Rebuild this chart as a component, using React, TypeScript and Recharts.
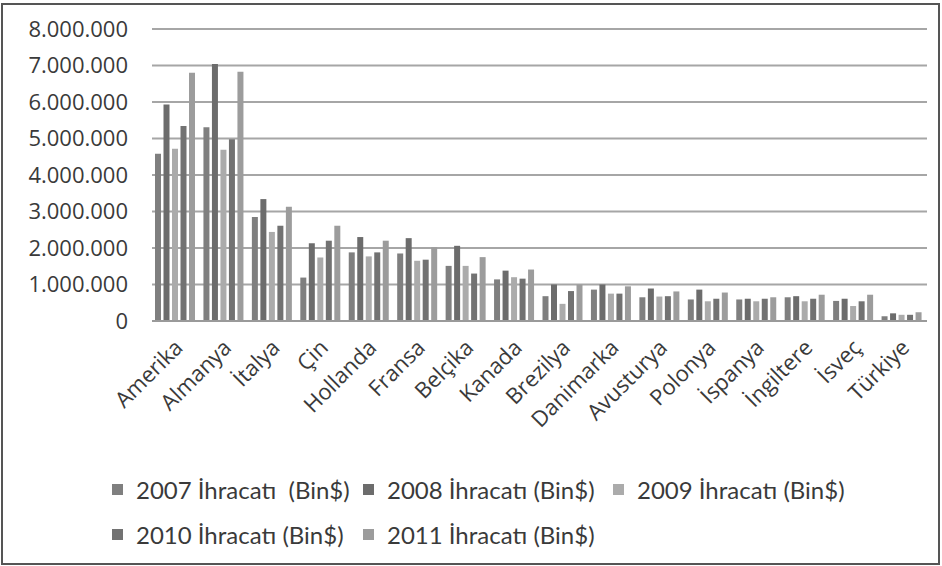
import { BarChart, Bar, XAxis, YAxis, CartesianGrid, Legend } from 'recharts'

const countries = ['Amerika', 'Almanya', 'İtalya', 'Çin', 'Hollanda', 'Fransa', 'Belçika', 'Kanada', 'Brezilya', 'Danimarka', 'Avusturya', 'Polonya', 'İspanya', 'İngiltere', 'İsveç', 'Türkiye']

const exports2007 = [4580000, 5310000, 2850000, 1190000, 1880000, 1850000, 1510000, 1140000, 680000, 860000, 650000, 590000, 590000, 650000, 550000, 130000]
const exports2008 = [5930000, 7040000, 3340000, 2130000, 2300000, 2270000, 2060000, 1380000, 1000000, 1000000, 890000, 860000, 610000, 680000, 610000, 210000]
const exports2009 = [4720000, 4690000, 2440000, 1740000, 1770000, 1650000, 1510000, 1200000, 470000, 750000, 670000, 540000, 540000, 540000, 410000, 170000]
const exports2010 = [5340000, 4980000, 2610000, 2200000, 1880000, 1680000, 1300000, 1160000, 820000, 750000, 680000, 610000, 610000, 610000, 540000, 170000]
const exports2011 = [6800000, 6830000, 3130000, 2610000, 2200000, 2020000, 1750000, 1410000, 1000000, 950000, 810000, 780000, 650000, 720000, 720000, 240000]

const yTicks = [0, 1000000, 2000000, 3000000, 4000000, 5000000, 6000000, 7000000, 8000000]

const SERIES = [
  { key: 'y2007', name: '2007 İhracatı  (Bin$)', color: '#7f7f7f' },
  { key: 'y2008', name: '2008 İhracatı (Bin$)', color: '#6c6c6c' },
  { key: 'y2009', name: '2009 İhracatı (Bin$)', color: '#ababab' },
  { key: 'y2010', name: '2010 İhracatı (Bin$)', color: '#727272' },
  { key: 'y2011', name: '2011 İhracatı (Bin$)', color: '#9c9c9c' },
]

// legend item slots (left, top), two rows
const LEGEND_SLOTS = [
  [112, 475],
  [363, 475],
  [613, 475],
  [112, 520],
  [363, 520],
]

const data = countries.map((country, i) => ({
  country,
  y2007: exports2007[i],
  y2008: exports2008[i],
  y2009: exports2009[i],
  y2010: exports2010[i],
  y2011: exports2011[i],
}))

const formatThousands = (v: number) => String(v).replace(/\B(?=(\d{3})+(?!\d))/g, '.')

function CountryTick({ x, y, payload }: any) {
  const tx = x + 8
  const ty = y + 28
  return (
    <text
      x={tx}
      y={ty}
      transform={`rotate(-45 ${tx} ${ty})`}
      textAnchor="end"
      fontFamily="'Open Sans', sans-serif"
      fontSize={22}
      fill="#3a3a3a"
    >
      {payload.value}
    </text>
  )
}

function LegendRows({ payload }: any) {
  return (
    <div style={{ position: 'relative', height: 0 }}>
      {(payload || []).map((entry: any, i: number) => {
        const [left, top] = LEGEND_SLOTS[i]
        return (
          <div
            key={entry.value}
            style={{
              position: 'absolute',
              left,
              top,
              display: 'flex',
              alignItems: 'center',
              whiteSpace: 'pre',
              fontFamily: "'Lato', sans-serif",
              fontSize: 24,
              color: '#3a3a3a',
            }}
          >
            <span style={{ width: 11, height: 11, background: entry.color, marginRight: 13 }} />
            {entry.value}
          </div>
        )
      })}
    </div>
  )
}

export default function App() {
  return (
    <div style={{ position: 'absolute', left: 0, top: 0, width: 942, height: 566, background: '#fff' }}>
      <div
        style={{
          position: 'absolute',
          left: 1,
          top: 3,
          width: 939,
          height: 562,
          border: '2px solid #555',
          boxSizing: 'border-box',
        }}
      />
      <BarChart
        width={942}
        height={566}
        data={data}
        margin={{ top: 29, right: 15, bottom: 0, left: 0 }}
        barCategoryGap={3}
        barGap={2.5}
      >
        <CartesianGrid vertical={false} stroke="#a6a6a6" strokeWidth={2} />
        <XAxis
          dataKey="country"
          interval={0}
          height={245}
          tickLine={false}
          tickSize={0}
          tickMargin={0}
          axisLine={{ stroke: '#9a9a9a', strokeWidth: 2 }}
          tick={<CountryTick />}
        />
        <YAxis
          width={152}
          domain={[0, 8000000]}
          ticks={yTicks}
          tickFormatter={formatThousands}
          axisLine={false}
          tickLine={false}
          tickSize={0}
          tickMargin={24}
          tick={{ fontFamily: "'Open Sans', sans-serif", fontSize: 22, fill: '#3a3a3a' }}
        />
        <Legend
          verticalAlign="top"
          align="left"
          content={<LegendRows />}
          wrapperStyle={{ left: 0, top: 0, width: 942, height: 0 }}
        />
        {SERIES.map((s) => (
          <Bar key={s.key} dataKey={s.key} name={s.name} fill={s.color} isAnimationActive={false} />
        ))}
      </BarChart>
    </div>
  )
}
